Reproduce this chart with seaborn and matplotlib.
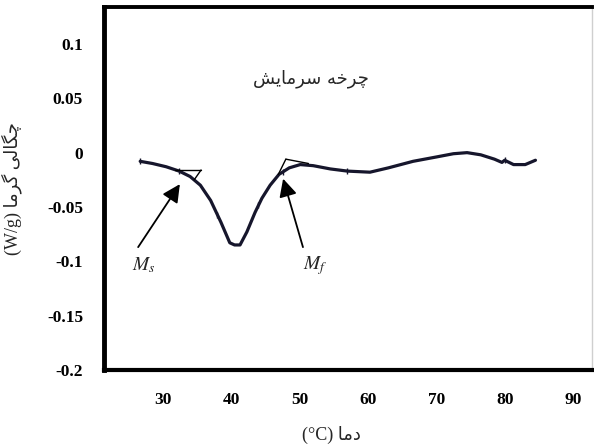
#!/usr/bin/env python3
"""
DSC cooling curve (Persian labels) with Ms / Mf onset construction.
"""

import numpy as np
import pandas as pd
import matplotlib
matplotlib.use("Agg")
import matplotlib.pyplot as plt
import seaborn as sns

# ---- data ------------------------------------------------------------------
temp = [26.7, 28.5, 30.5, 32.4, 34.0, 35.5, 37.0, 38.5, 39.8, 40.5, 41.3,
        42.3, 43.5, 44.5, 45.7, 47.0, 48.5, 50.1, 52.0, 54.5, 57.0, 60.3,
        63.0, 66.6, 70.0, 72.5, 74.5, 76.5, 78.5, 79.6, 80.0, 81.3, 83.0, 84.5]
heat_flow = [-0.008, -0.010, -0.013, -0.017, -0.022, -0.030, -0.044, -0.064,
             -0.083, -0.085, -0.085, -0.073, -0.055, -0.042, -0.030, -0.020,
             -0.014, -0.011, -0.012, -0.015, -0.017, -0.018, -0.014, -0.008,
             -0.004, -0.001, 0.000, -0.002, -0.006, -0.009, -0.007, -0.011,
             -0.011, -0.007]

# small instrument tick marks sitting on the trace
mark_temp = [26.7, 32.4, 38.0, 44.0, 47.6, 57.0, 80.0]

# tangent construction lines (x pairs, y pairs)
ms_tangent_x = [[31.8, 35.6], [35.6, 34.6]]
ms_tangent_y = [[-0.016, -0.016], [-0.016, -0.025]]
mf_tangent_x = [[46.9, 48.0], [48.0, 51.3]]
mf_tangent_y = [[-0.020, -0.006], [-0.006, -0.010]]

x_ticks = [30, 40, 50, 60, 70, 80, 90]
y_ticks = [0.1, 0.05, 0, -0.05, -0.1, -0.15, -0.2]
y_tick_labels = ["0.1", "0.05", "0", "-0.05", "-0.1", "-0.15", "-0.2"]

# Persian strings, pre-shaped (presentation forms) in visual order
title_fa = "\uFEB6\uFBFE\uFE8E\uFEE3\uFEAE\uFEB3 \uFEEA\uFEA7\uFEAE\uFB7C"      # چرخه سرمایش
ylabel_fa = "(W/g) \uFE8E\uFEE3\uFEAE\uFB94 \uFBFD\uFEDF\uFE8E\uFB95\uFB7C"   # چگالی گرما (W/g)
xlabel_fa = "(\u00B0C) \uFE8E\uFEE3\uFEA9"                                     # دما (°C)

LINE_COLOR = "#16162c"
SERIF_FA = ["Liberation Serif", "DejaVu Sans"]


def main():
    sns.set_theme(style="white")
    plt.rcParams["font.family"] = SERIF_FA

    df = pd.DataFrame({"temp": temp, "heat": heat_flow})

    fig = plt.figure(figsize=(5.94, 4.44), dpi=100)
    ax = fig.add_axes([0.175, 0.167, 0.822, 0.817])

    sns.lineplot(data=df, x="temp", y="heat", ax=ax, color=LINE_COLOR,
                 linewidth=2.3, sort=False)

    # tiny tick marks on the trace
    ax.plot(mark_temp, np.interp(mark_temp, temp, heat_flow), linestyle="none",
            marker="|", markersize=5, markeredgewidth=1.0, color=LINE_COLOR)

    # tangent construction
    for xs, ys in zip(ms_tangent_x + mf_tangent_x, ms_tangent_y + mf_tangent_y):
        ax.plot(xs, ys, color="black", linewidth=1.0)

    # arrows + labels
    arrow_kw = dict(arrowstyle="-|>,head_length=0.9,head_width=0.45",
                    color="black", lw=1.3, shrinkA=0, shrinkB=0)
    ax.annotate("", xy=(32.5, -0.029), xytext=(26.4, -0.087),
                arrowprops=arrow_kw)
    ax.annotate("", xy=(47.6, -0.024), xytext=(50.5, -0.087),
                arrowprops=arrow_kw)
    ax.text(27.2, -0.104, r"$M_s$", ha="center", va="center", fontsize=14,
            math_fontfamily="stix")
    ax.text(52.3, -0.104, r"$M_f$", ha="center", va="center", fontsize=14,
            math_fontfamily="stix")

    ax.text(51.6, 0.0685, title_fa, ha="center", va="center", fontsize=13,
            family=["DejaVu Sans"])

    # axes styling
    ax.set_xlim(21.4, 92.8)
    ax.set_ylim(-0.2, 0.134)
    ax.set_xticks(x_ticks)
    ax.set_yticks(y_ticks)
    ax.set_yticklabels(y_tick_labels)
    ax.tick_params(axis="both", direction="out", length=7, width=2.2,
                   labelsize=12.5, colors="black")
    ax.tick_params(axis="y", pad=8)
    ax.tick_params(axis="x", pad=9)
    for lab in ax.get_xticklabels() + ax.get_yticklabels():
        lab.set_fontweight("bold")
        lab.set_family("Liberation Serif")

    for side in ["left", "bottom", "top"]:
        ax.spines[side].set_color("black")
    ax.spines["left"].set_linewidth(3.5)
    ax.spines["bottom"].set_linewidth(3.0)
    ax.spines["top"].set_linewidth(2.8)
    ax.spines["right"].set_color("#cfcfcf")
    ax.spines["right"].set_linewidth(1.0)

    ax.set_xlabel(xlabel_fa, fontsize=13, family=SERIF_FA)
    ax.set_ylabel(ylabel_fa, fontsize=13, family=SERIF_FA)
    ax.xaxis.set_label_coords(0.465, -0.155)
    ax.yaxis.set_label_coords(-0.168, 0.5)

    fig.savefig("out.png", dpi=100)
    plt.close(fig)


if __name__ == "__main__":
    main()
